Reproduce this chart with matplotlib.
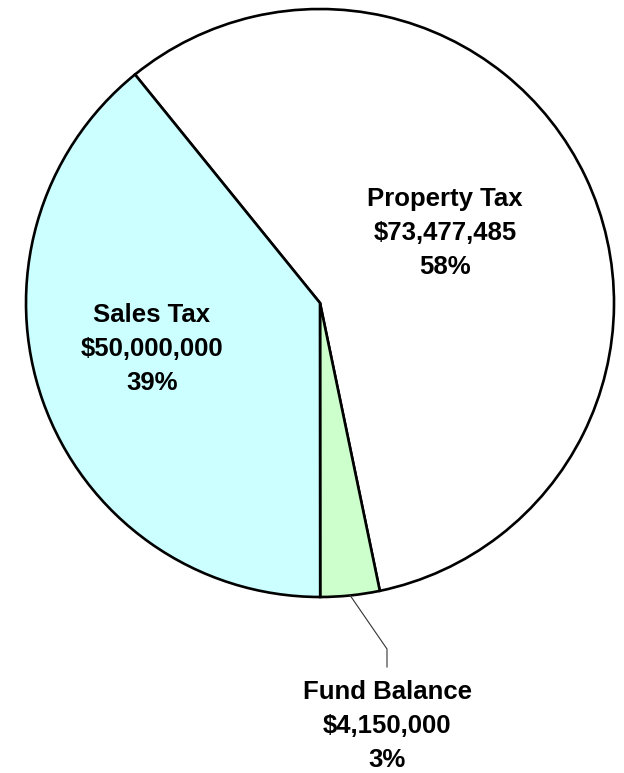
import matplotlib
matplotlib.use("Agg")
import matplotlib.pyplot as plt
import numpy as np

# Revenue sources
categories = ["Property Tax", "Fund Balance", "Sales Tax"]
amounts = [73477485, 4150000, 50000000]
colors = ["#FFFFFF", "#CCFFCC", "#CCFFFF"]

total = sum(amounts)
labels = [f"{c}\n${a:,}\n{round(a / total * 100):.0f}%" for c, a in zip(categories, amounts)]

W, H = 624, 773
R = 294.0            # pie radius in pixels
CX, CY = 320.0, 303.0  # pie centre in pixels (from top-left)

fig = plt.figure(figsize=(W / 100, H / 100), dpi=100)
ax = fig.add_axes([0, 0, 1, 1])

wedges, _ = ax.pie(
    amounts, colors=colors, startangle=129.0, counterclock=False,
    radius=1.0, center=(0, 0), frame=True,
    wedgeprops=dict(edgecolor="black", linewidth=1.9),
)
ax.set_xlim(-CX / R, (W - CX) / R)
ax.set_ylim(-(H - CY) / R, CY / R)
ax.set_aspect("equal")
ax.axis("off")

font = dict(family=["Liberation Sans", "DejaVu Sans"], fontsize=18.5,
            fontweight="bold", ha="center", va="center", linespacing=1.55)

def px(x, y):
    return (x - CX) / R, (CY - y) / R

# In-slice labels
ax.text(*px(445, 233), labels[0], **font)
ax.text(*px(152, 349), labels[2], **font)

# Fund Balance label with leader line from the slice midpoint
w = wedges[1]
mid = np.deg2rad((w.theta1 + w.theta2) / 2)
x0, y0 = np.cos(mid), np.sin(mid)
x1, y1 = px(387, 649)
x2, y2 = px(387, 667)
ax.plot([x0, x1, x2], [y0, y1, y2], color="#333333", linewidth=0.8)
ax.text(*px(387, 726), labels[1], **font)

fig.savefig("out.png", dpi=100, facecolor="white")
